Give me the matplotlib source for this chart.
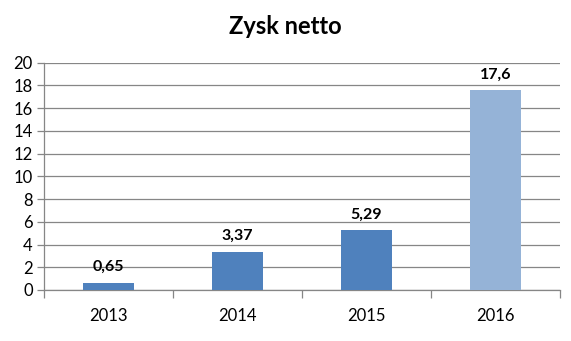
import matplotlib
matplotlib.use("Agg")
import matplotlib.pyplot as plt
from matplotlib.ticker import FixedLocator

years = ["2013", "2014", "2015", "2016"]
values = [0.65, 3.37, 5.29, 17.6]
labels = ["0,65", "3,37", "5,29", "17,6"]
colors = ["#4F81BD", "#4F81BD", "#4F81BD", "#95B3D7"]
yticks = [0, 2, 4, 6, 8, 10, 12, 14, 16, 18, 20]

plt.rcParams['font.family'] = ['Lato', 'DejaVu Sans']

fig = plt.figure(figsize=(5.71, 3.41), dpi=100)
ax = fig.add_axes([44/571, 1 - 290/341, (560 - 44)/571, (290 - 62.7)/341])

x = list(range(len(years)))
ax.bar(x, values, width=0.4, color=colors, zorder=3)
for xi, v, lab in zip(x, values, labels):
    ax.text(xi, v + 0.75, lab, ha='center', va='bottom', fontsize=11.5, fontweight='bold', color='black')

ax.set_xlim(-0.5, len(years) - 0.5)
ax.set_ylim(0, 20)
ax.set_yticks(yticks)
ax.set_yticklabels([str(t) for t in yticks], fontsize=12)
ax.yaxis.grid(True, color='#868686', linewidth=0.9, zorder=0)
ax.set_xticks(x)
ax.set_xticklabels(years, fontsize=12)
ax.tick_params(axis='x', which='major', length=0, pad=13)
ax.xaxis.set_minor_locator(FixedLocator([-0.5, 0.5, 1.5, 2.5, 3.5]))
ax.tick_params(axis='x', which='minor', length=6, color='#868686', width=0.9)
ax.tick_params(axis='y', length=5, color='#868686', width=0.9, pad=3)

for s in ['top', 'right']:
    ax.spines[s].set_visible(False)
for s in ['left', 'bottom']:
    ax.spines[s].set_color('#868686')
    ax.spines[s].set_linewidth(0.9)

fig.text(285/571, 1 - 27/341, "Zysk netto", ha='center', va='center', fontsize=17, fontweight='bold')

fig.savefig("out.png", dpi=100)
